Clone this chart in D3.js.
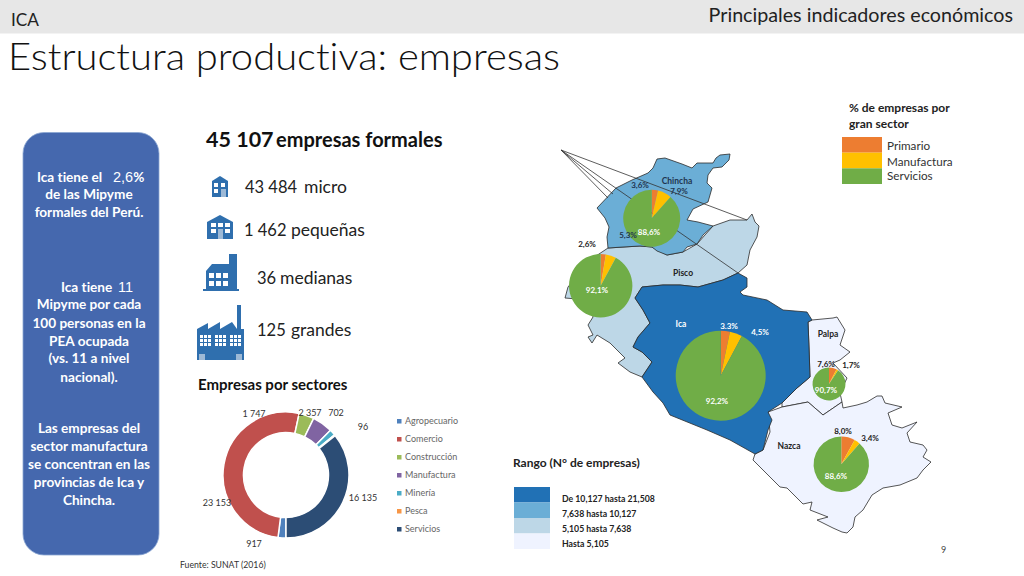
<!DOCTYPE html>
<html>
<head>
<meta charset="utf-8">
<script src="https://cdn.jsdelivr.net/npm/d3@7"></script>
<style>
html, body { margin: 0; padding: 0; background: #fff; }
svg { display: block; }
text { font-family: Lato, "Noto Sans", sans-serif; font-variant-ligatures: none; }
</style>
</head>
<body>
<script>
// donut values
var sectores = ["Agropecuario", "Comercio", "Construcción", "Manufactura", "Minería", "Pesca", "Servicios"];
var sectorValues = [917, 23153, 1747, 2357, 702, 96, 16135];
var sectorLabels = ["917", "23 153", "1 747", "2 357", "702", "96", "16 135"];
var sectorColors = ["#4f81bd", "#c0504d", "#9bbb59", "#8064a2", "#4bacc6", "#f79646", "#2c4d75"];

// gran sector share by province (primario, manufactura, servicios)
var provincias = ["Chincha", "Pisco", "Ica", "Palpa", "Nazca"];
var chinchaShare = [3.6, 7.9, 88.6];
var piscoShare = [2.6, 5.3, 92.1];
var icaShare = [3.3, 4.5, 92.2];
var palpaShare = [7.6, 1.7, 90.7];
var nazcaShare = [8.0, 3.4, 88.6];
var granSector = ["Primario", "Manufactura", "Servicios"];
var granSectorColors = ["#ed7d31", "#ffc000", "#70ad47"];

var rangos = ["De 10,127 hasta 21,508", "7,638 hasta 10,127", "5,105 hasta 7,638", "Hasta 5,105"];
var rangoColors = ["#2171b5", "#6baed6", "#bdd7e7", "#eff3ff"];

// company counts by size
var tamanos = ["micro", "pequeñas", "medianas", "grandes"];
var tamanoLabels = ["43 484", "1 462", "36", "125"];

var chinchaShape = [[597,208],[616,188],[632,180],[648,173],[653,168],[657,159],[665,158],[682,164],[692,168],[697,163],[713,163],[716,158],[720,155],[730,154],[729,160],[722,167],[713,168],[708,175],[707,183],[712,188],[708,202],[693,209],[687,220],[698,222],[713,226],[703,235],[697,244],[687,247],[683,252],[667,255],[657,251],[652,247],[640,246],[623,247],[608,248],[607,237],[609,227],[605,218]];
var piscoShape = [[608,248],[640,246],[652,247],[667,255],[683,252],[697,244],[713,226],[730,220],[747,220],[752,214],[755,222],[759,226],[757,237],[750,250],[747,265],[738,273],[723,280],[698,287],[680,285],[663,285],[642,287],[635,298],[643,310],[650,323],[638,337],[633,347],[642,352],[652,362],[642,377],[630,372],[618,363],[625,358],[610,343],[597,335],[592,343],[588,337],[593,335],[588,325],[593,317],[590,300],[565,298],[568,287],[590,260]];
var icaShape = [[642,287],[663,285],[680,285],[698,287],[723,280],[738,273],[747,278],[747,287],[740,292],[743,295],[767,300],[783,310],[807,312],[812,320],[808,322],[809,347],[810,377],[803,383],[797,388],[782,403],[768,412],[772,420],[768,430],[763,450],[755,454],[730,440],[707,430],[670,415],[663,403],[653,392],[642,377],[652,362],[642,352],[633,347],[638,337],[650,323],[643,310],[635,298]];
var palpaShape = [[812,320],[833,318],[837,317],[845,330],[840,345],[850,352],[840,360],[833,363],[847,378],[840,393],[842,402],[823,415],[808,402],[782,407],[782,403],[797,388],[803,383],[810,377],[809,347],[808,322]];
var nazcaShape = [[755,454],[763,450],[770,432],[768,412],[782,407],[808,402],[823,415],[842,402],[843,408],[857,405],[867,402],[877,396],[882,396],[885,403],[902,407],[888,413],[892,425],[902,428],[917,422],[907,433],[910,442],[923,445],[927,450],[923,457],[931,462],[923,470],[917,478],[900,485],[883,488],[872,495],[863,510],[855,517],[853,527],[847,533],[842,532],[833,528],[817,520],[828,517],[810,510],[812,502],[803,504],[787,488],[780,487],[753,460]];

var width = 1024;
var height = 576;

var svg = d3.select("body").append("svg")
    .attr("width", width)
    .attr("height", height);

// header
svg.append("rect").attr("width", width).attr("height", 33.5).attr("fill", "#e7e7e7");
svg.append("text").attr("x", 11).attr("y", 25.5).attr("font-size", 18).attr("fill", "#222")
    .attr("textLength", 28).attr("lengthAdjust", "spacingAndGlyphs").text("ICA");
svg.append("text").attr("x", 1013).attr("y", 22).attr("text-anchor", "end")
    .attr("font-size", 19.7).attr("fill", "#222").text("Principales indicadores económicos");
svg.append("text").attr("x", 8).attr("y", 69.5).attr("font-size", 37.5).attr("font-weight", 300)
    .attr("textLength", 552).attr("lengthAdjust", "spacingAndGlyphs")
    .attr("fill", "#111").text("Estructura productiva: empresas");

// left panel
svg.append("rect").attr("x", 23).attr("y", 132.5).attr("width", 136).attr("height", 422.5)
    .attr("rx", 21).attr("fill", "#4568ae").attr("stroke", "#8aa6d2").attr("stroke-width", 0.8);

var panelLines = [
    ["de las Mipyme", 199], ["formales del Perú.", 217],
    ["Mipyme por cada", 309], ["100 personas en la", 328], ["PEA ocupada", 346],
    ["(vs. 11 a nivel", 363], ["nacional).", 382],
    ["Las empresas del", 433], ["sector manufactura", 451], ["se concentran en las", 469],
    ["provincias de Ica y", 487], ["Chincha.", 505]
];
svg.append("g").selectAll("text").data(panelLines).enter().append("text")
    .attr("x", 89)
    .attr("y", function (d) { return d[1]; })
    .attr("text-anchor", "middle")
    .attr("font-size", 13.6)
    .attr("font-weight", 700)
    .attr("fill", "#fff")
    .text(function (d) { return d[0]; });

var line1 = svg.append("text").attr("x", 37).attr("y", 182).attr("font-size", 13.6).attr("font-weight", 700).attr("fill", "#fff");
line1.append("tspan").text("Ica tiene el");
line1.append("tspan").attr("x", 113).attr("font-size", 14.5).attr("font-family", "Liberation Sans").attr("font-weight", 400).text("2,6");
line1.append("tspan").text("%");
var line2 = svg.append("text").attr("x", 61).attr("y", 292).attr("font-size", 13.6).attr("font-weight", 700).attr("fill", "#fff");
line2.append("tspan").text("Ica tiene");
line2.append("tspan").attr("x", 118).attr("font-size", 14.5).attr("font-family", "Liberation Sans").attr("font-weight", 400).text("11");

// headline
svg.append("text").attr("x", 206).attr("y", 147).attr("font-size", 21.5).attr("font-weight", 700)
    .attr("font-family", "Liberation Sans").attr("fill", "#111").text("45 107");
svg.append("text").attr("x", 276).attr("y", 147).attr("font-size", 20).attr("font-weight", 700)
    .attr("fill", "#111").text("empresas formales");

var tamanoNumX = [245, 244, 257, 257];
var tamanoWordX = [304, 291, 280, 291];
var tamanoY = [193, 236, 284, 336];
tamanos.forEach(function (t, i) {
    svg.append("text").attr("x", tamanoNumX[i]).attr("y", tamanoY[i]).attr("font-size", 16.5)
        .attr("fill", "#222").text(tamanoLabels[i]);
    svg.append("text").attr("x", tamanoWordX[i]).attr("y", tamanoY[i]).attr("font-size", 17.5)
        .attr("fill", "#222").text(t);
});

// building icons
var iconBlue = "#2f6fae";
function blocks(g, list, fill) {
    g.selectAll(null).data(list).enter().append("rect")
        .attr("x", function (d) { return d[0]; })
        .attr("y", function (d) { return d[1]; })
        .attr("width", function (d) { return d[2]; })
        .attr("height", function (d) { return d[3]; })
        .attr("fill", fill);
}
var icons = svg.append("g");
// micro
icons.append("path").attr("d", "M212,181 L220,176 L228,181 L228,197 L212,197 Z").attr("fill", iconBlue);
blocks(icons, [[214,183,4,4],[221,183,4,4],[214,189,4,4]], "#fff");
blocks(icons, [[221,189,5,8]], "#9db9d6");
// pequeñas
icons.append("path").attr("d", "M207,222 L220,215 L233,222 L233,239 L207,239 Z").attr("fill", iconBlue);
blocks(icons, [[211,223,5,4],[218,223,5,4],[225,223,5,4],[211,229,5,4],[225,229,5,4]], "#fff");
blocks(icons, [[218,229,5,10]], "#9db9d6");
// medianas
icons.append("path").attr("d", "M206,271 L212,264 L229,264 L229,254 L237,254 L237,289 L239,289 L239,291 L203,291 L203,289 L206,289 Z").attr("fill", iconBlue);
blocks(icons, [[209,273,5,5],[216,273,5,5],[223,273,5,5],[209,281,5,5],[216,281,5,5],[223,281,5,5]], "#fff");
// grandes
icons.append("path").attr("d", "M197,329 L208,323 L208,329 L220,322 L220,329 L232,322 L237,329 L237,305 L241,305 L241,329 L244,329 L244,360 L197,360 Z").attr("fill", iconBlue);
[200, 215, 230].forEach(function (x0) {
    [335, 339, 343].forEach(function (y0) {
        blocks(icons, [[x0, y0, 3, 3], [x0 + 4, y0, 3, 3], [x0 + 8, y0, 3, 3]], "#fff");
    });
});
blocks(icons, [[199,354,6,6],[236,354,6,6]], "#9db9d6");

// donut
svg.append("text").attr("x", 198).attr("y", 390).attr("font-size", 15).attr("font-weight", 700)
    .attr("fill", "#111").text("Empresas por sectores");

var sectorColor = d3.scaleOrdinal().domain(sectores).range(sectorColors);
var donutPie = d3.pie().sort(null).startAngle(Math.PI).endAngle(3 * Math.PI);
var donutArc = d3.arc().innerRadius(42.5).outerRadius(63);
var donut = svg.append("g").attr("transform", "translate(286,475)");
donut.selectAll("path").data(donutPie(sectorValues)).enter().append("path")
    .attr("d", donutArc)
    .attr("fill", function (d, i) { return sectorColor(sectores[i]); })
    .attr("stroke", "#fff")
    .attr("stroke-width", 1.5);

var donutLabelPos = [[254,547], [217,506], [254,417], [310,416], [336,416], [363,430], [363,501]];
svg.append("g").selectAll("text").data(sectorLabels).enter().append("text")
    .attr("x", function (d, i) { return donutLabelPos[i][0]; })
    .attr("y", function (d, i) { return donutLabelPos[i][1]; })
    .attr("text-anchor", "middle")
    .attr("font-size", 9)
    .attr("fill", "#333")
    .text(function (d) { return d; });

var legendY = d3.scalePoint().domain(sectores).range([421, 529]);
var legend = svg.append("g").selectAll("g").data(sectores).enter().append("g")
    .attr("transform", function (d) { return "translate(399," + legendY(d) + ")"; });
legend.append("rect").attr("x", -2).attr("y", -2).attr("width", 4.5).attr("height", 4.5)
    .attr("fill", function (d) { return sectorColor(d); });
legend.append("text").attr("x", 6).attr("y", 3).attr("font-size", 9).attr("fill", "#666")
    .text(function (d) { return d; });

svg.append("text").attr("x", 180).attr("y", 568).attr("font-size", 8.7).attr("fill", "#333").text("Fuente: SUNAT (2016)");
svg.append("text").attr("x", 941).attr("y", 553).attr("font-size", 9).attr("fill", "#444").text("9");

// map
var outline = d3.line();
var shapes = [
    { name: "Pisco", pts: piscoShape, fill: rangoColors[2] },
    { name: "Chincha", pts: chinchaShape, fill: rangoColors[1] },
    { name: "Palpa", pts: palpaShape, fill: rangoColors[3] },
    { name: "Nazca", pts: nazcaShape, fill: rangoColors[3] },
    { name: "Ica", pts: icaShape, fill: rangoColors[0] }
];
svg.append("g").selectAll("path").data(shapes).enter().append("path")
    .attr("d", function (d) { return outline(d.pts) + "Z"; })
    .attr("fill", function (d) { return d.fill; })
    .attr("stroke", "#2b2b2b")
    .attr("stroke-width", 0.8)
    .attr("stroke-linejoin", "round");

// leader lines fan out from one corner
var leaderStart = [561, 150];
var leaderEnds = [[747,220], [738,273], [613,194], [608,198]];
svg.append("g").selectAll("line").data(leaderEnds).enter().append("line")
    .attr("x1", leaderStart[0]).attr("y1", leaderStart[1])
    .attr("x2", function (d) { return d[0]; })
    .attr("y2", function (d) { return d[1]; })
    .attr("stroke", "#333")
    .attr("stroke-width", 0.8);

// province pies
var shares = [chinchaShare, piscoShare, icaShare, palpaShare, nazcaShare];
var pieCenter = [[651.7,218.3], [600.7,285.7], [720.7,375.7], [829,384], [841.3,464.3]];
var pieRadius = [28.5, 31.7, 45, 16.5, 27.7];
var granColor = d3.scaleOrdinal().domain(granSector).range(granSectorColors);
var sharePie = d3.pie().sort(null);

shares.forEach(function (share, i) {
    var arc = d3.arc().innerRadius(0).outerRadius(pieRadius[i]);
    svg.append("g")
        .attr("class", "pie-" + provincias[i])
        .attr("transform", "translate(" + pieCenter[i] + ")")
        .selectAll("path").data(sharePie(share)).enter().append("path")
        .attr("d", arc)
        .attr("fill", function (d, j) { return granColor(granSector[j]); });
});

function fmt(v) { return v.toFixed(1).replace(".", ",") + "%"; }

// share labels: [text, x, y, colour]
var shareLabels = [
    [fmt(chinchaShare[0]), 640, 188, "#1f3550"], [fmt(chinchaShare[1]), 679, 194, "#1f3550"],
    [fmt(chinchaShare[2]), 649, 235, "#fff"], [fmt(piscoShare[1]), 628, 238, "#1f3550"],
    [fmt(piscoShare[0]), 587, 247, "#222"], [fmt(piscoShare[2]), 597, 293, "#fff"],
    ["3.3%", 729, 329, "#fff"], [fmt(icaShare[1]), 760, 335, "#fff"], [fmt(icaShare[2]), 717, 404, "#fff"],
    [fmt(palpaShare[0]), 826, 367, "#222"], [fmt(palpaShare[1]), 851, 368, "#222"], [fmt(palpaShare[2]), 826, 393, "#fff"],
    [fmt(nazcaShare[0]), 843, 434, "#222"], [fmt(nazcaShare[1]), 870, 441, "#222"], [fmt(nazcaShare[2]), 836, 479, "#fff"]
];
svg.append("g").selectAll("text").data(shareLabels).enter().append("text")
    .attr("x", function (d) { return d[1]; })
    .attr("y", function (d) { return d[2]; })
    .attr("text-anchor", "middle")
    .attr("font-size", 8)
    .attr("font-weight", 700)
    .attr("fill", function (d) { return d[3]; })
    .text(function (d) { return d[0]; });

var nameX = [677, 683, 681, 828, 789];
var nameY = [184, 276, 327, 337, 449];
var nameFill = ["#1f3550", "#222", "#fff", "#222", "#222"];
svg.append("g").selectAll("text").data(provincias).enter().append("text")
    .attr("x", function (d, i) { return nameX[i]; })
    .attr("y", function (d, i) { return nameY[i]; })
    .attr("text-anchor", "middle")
    .attr("font-size", 8.5)
    .attr("font-weight", 700)
    .attr("fill", function (d, i) { return nameFill[i]; })
    .text(function (d) { return d; });

// gran sector legend
svg.append("text").attr("x", 849).attr("y", 112).attr("font-size", 12).attr("font-weight", 700).attr("fill", "#222").text("% de empresas por");
svg.append("text").attr("x", 849).attr("y", 128).attr("font-size", 12).attr("font-weight", 700).attr("fill", "#222").text("gran sector");
var granY = d3.scaleBand().domain(granSector).range([137, 184]);
svg.append("g").selectAll("rect").data(granSector).enter().append("rect")
    .attr("x", 842).attr("y", function (d) { return granY(d); })
    .attr("width", 40).attr("height", granY.bandwidth())
    .attr("fill", function (d) { return granColor(d); });
var granTextY = [150, 166, 180];
svg.append("g").selectAll("text").data(granSector).enter().append("text")
    .attr("x", 887).attr("y", function (d, i) { return granTextY[i]; })
    .attr("font-size", 11.7).attr("fill", "#333")
    .text(function (d) { return d; });

// range legend
svg.append("text").attr("x", 513).attr("y", 467).attr("font-size", 12).attr("font-weight", 700).attr("fill", "#222").text("Rango (N° de empresas)");
var rangoY = d3.scaleBand().domain(rangos).range([487, 549]);
svg.append("g").selectAll("rect").data(rangos).enter().append("rect")
    .attr("x", 514).attr("y", function (d) { return rangoY(d); })
    .attr("width", 36).attr("height", rangoY.bandwidth())
    .attr("fill", function (d, i) { return rangoColors[i]; });
var rangoTextY = [502, 517, 532, 547];
svg.append("g").selectAll("text").data(rangos).enter().append("text")
    .attr("x", 562).attr("y", function (d, i) { return rangoTextY[i]; })
    .attr("font-size", 8.7).attr("font-weight", 700).attr("fill", "#222")
    .text(function (d) { return d; });
</script>
</body>
</html>
